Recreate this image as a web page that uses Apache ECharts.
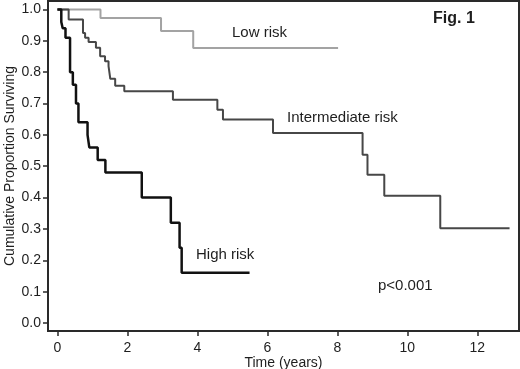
<!DOCTYPE html>
<html><head><meta charset="utf-8">
<script src="https://cdn.jsdelivr.net/npm/echarts@6/dist/echarts.min.js"></script>
<style>html,body{margin:0;padding:0;background:#fff}#c{width:520px;height:369px}</style>
</head><body><div id="c"></div>
<script>
const lowTimes = [0, 1.23, 2.96, 3.88, 8.02];
const lowSurv = [1.0, 0.973, 0.931, 0.877, 0.877];
const interTimes = [0, 0.32, 0.73, 0.79, 0.89, 1.10, 1.22, 1.36, 1.46, 1.51, 1.65, 1.91, 3.30, 4.57, 4.73, 6.16, 8.72, 8.86, 9.34, 10.94, 12.92];
const interSurv = [1.0, 0.968, 0.925, 0.91, 0.896, 0.878, 0.851, 0.835, 0.819, 0.779, 0.757, 0.739, 0.712, 0.680, 0.649, 0.606, 0.537, 0.473, 0.406, 0.302, 0.302];
const highTimes = [0, 0.11, 0.15, 0.23, 0.36, 0.44, 0.53, 0.60, 0.86, 0.91, 1.15, 1.37, 2.41, 3.24, 3.49, 3.55, 5.49];
const highSurv = [1.0, 0.96, 0.94, 0.91, 0.80, 0.76, 0.70, 0.64, 0.60, 0.56, 0.52, 0.48, 0.40, 0.32, 0.24, 0.16, 0.16];
const xTicks = [0, 2, 4, 6, 8, 10, 12];
const yTicks = [0, 0.1, 0.2, 0.3, 0.4, 0.5, 0.6, 0.7, 0.8, 0.9, 1.0];
const seriesNames = ['Low risk', 'Intermediate risk', 'High risk'];

const pair = (t, s) => t.map((v, i) => [v, s[i]]);
const font = 'Liberation Sans, Arial, sans-serif';
const txt = '#1e1e1e';
const chart = echarts.init(document.getElementById('c'));
chart.setOption({
  animation: false,
  backgroundColor: '#fff',
  grid: { left: 48, top: 1, right: 1, bottom: 38, outerBoundsMode: 'none', containLabel: false, show: true, borderColor: '#2a2a2a', borderWidth: 2, backgroundColor: '#fff' },
  xAxis: {
    type: 'value', min: -0.27, max: 13.19,
    name: 'Time (years)', nameLocation: 'middle', nameGap: 25, nameMoveOverlap: false,
    nameTextStyle: { fontFamily: font, fontSize: 14, color: txt },
    axisLine: { show: true, onZero: false, lineStyle: { color: '#2a2a2a', width: 2 } },
    axisTick: { show: true, length: 5, lineStyle: { color: '#2a2a2a', width: 1.5 }, customValues: xTicks },
    axisLabel: { fontFamily: font, fontSize: 14, color: txt, margin: 10, customValues: xTicks },
    splitLine: { show: false }
  },
  yAxis: {
    type: 'value', min: -0.0255, max: 1.027,
    name: 'Cumulative Proportion Surviving', nameLocation: 'middle', nameGap: 31, nameMoveOverlap: false,
    nameTextStyle: { fontFamily: font, fontSize: 14, color: txt },
    axisLine: { show: true, onZero: false, lineStyle: { color: '#2a2a2a', width: 2 } },
    axisTick: { show: true, length: 5, lineStyle: { color: '#2a2a2a', width: 1.5 }, customValues: yTicks },
    axisLabel: { fontFamily: font, fontSize: 14, color: txt, margin: 7, customValues: yTicks, formatter: v => v.toFixed(1) },
    splitLine: { show: false }
  },
  series: [
    { name: seriesNames[0], type: 'line', step: 'end', data: pair(lowTimes, lowSurv), showSymbol: false, lineStyle: { color: '#a3a3a3', width: 2 } },
    { name: seriesNames[1], type: 'line', step: 'end', data: pair(interTimes, interSurv), showSymbol: false, lineStyle: { color: '#474747', width: 2 } },
    { name: seriesNames[2], type: 'line', step: 'end', data: pair(highTimes, highSurv), showSymbol: false, lineStyle: { color: '#111', width: 2.5 } }
  ],
  graphic: [
    { type: 'text', left: 232, top: 25, style: { text: seriesNames[0], font: '15px ' + font, fill: txt } },
    { type: 'text', left: 287, top: 110, style: { text: seriesNames[1], font: '15px ' + font, fill: txt } },
    { type: 'text', left: 196, top: 247, style: { text: seriesNames[2], font: '15px ' + font, fill: txt } },
    { type: 'text', left: 378, top: 278, style: { text: 'p<0.001', font: '15px ' + font, fill: txt } },
    { type: 'text', left: 433, top: 11, style: { text: 'Fig. 1', font: 'bold 16px ' + font, fill: txt } }
  ]
});
</script></body></html>
